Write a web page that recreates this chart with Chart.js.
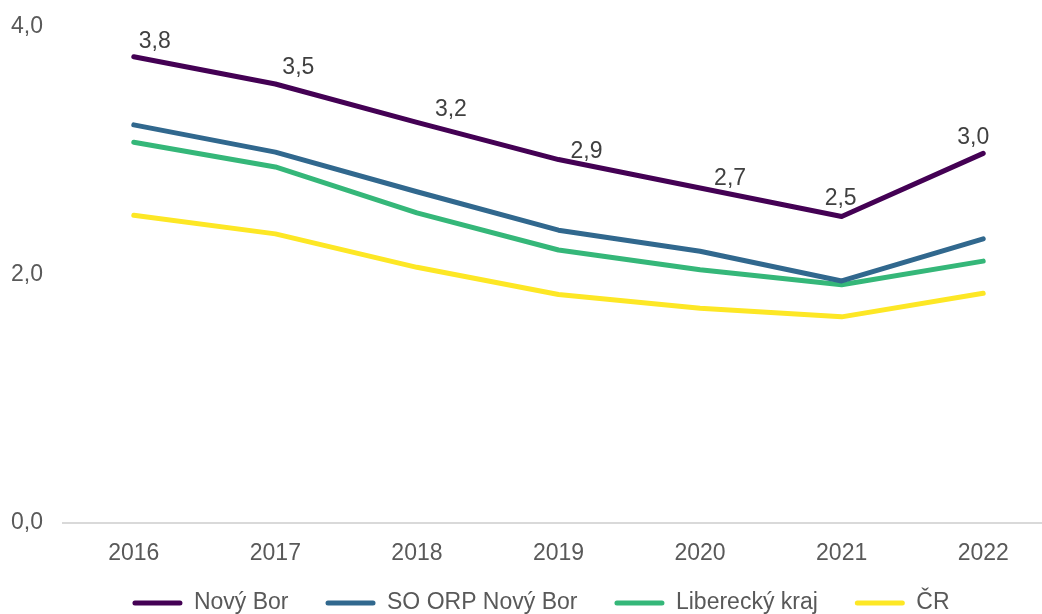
<!DOCTYPE html>
<html>
<head>
<meta charset="utf-8">
<script src="https://cdn.jsdelivr.net/npm/chart.js@4.4.0/dist/chart.umd.min.js"></script>
<style>
  html, body { margin: 0; padding: 0; background: #fff; overflow: hidden; }
  #wrap { width: 1082px; height: 614px; }
</style>
</head>
<body>
<div id="wrap"><canvas id="graf"></canvas></div>
<script>
const roky = ['2016', '2017', '2018', '2019', '2020', '2021', '2022']
const novyBor = [3.76, 3.54, 3.23, 2.93, 2.70, 2.47, 2.98]
const soOrpNovyBor = [3.21, 2.99, 2.67, 2.36, 2.19, 1.95, 2.29]
const libereckyKraj = [3.07, 2.87, 2.50, 2.20, 2.04, 1.92, 2.11]
const cr = [2.48, 2.33, 2.06, 1.84, 1.73, 1.66, 1.85]
const osaYTicks = [0, 2, 4]

// posun popisku u bodu (styl, ne data)
const posunPopisku = [[21, -15], [23, -16], [34, -13], [28, -8], [30, -9], [-1, -18], [-10, -16]]

const popisky = {
    id: 'popisky',
    afterDatasetsDraw(chart) {
        const ctx = chart.ctx
        const meta = chart.getDatasetMeta(0)
        ctx.save()
        ctx.font = '23px "Liberation Sans", Arial, sans-serif'
        ctx.fillStyle = '#404040'
        ctx.textAlign = 'center'
        ctx.textBaseline = 'middle'
        meta.data.forEach((bod, i) => {
            const txt = novyBor[i].toFixed(1).replace('.', ',')
            ctx.fillText(txt, bod.x + posunPopisku[i][0], bod.y + posunPopisku[i][1])
        })
        ctx.restore()
    }
}

// legenda je v originalu trochu vpravo od stredu
const posunLegendy = {
    id: 'posunLegendy',
    afterLayout(chart) {
        chart.legend.left += 9
        chart.legend.right += 9
        chart.legend.top -= 16
        chart.legend.bottom = chart.height
    }
}

function serie(nazev, hodnoty, barva) {
    return {
        label: nazev,
        data: hodnoty,
        borderColor: barva,
        backgroundColor: barva,
        borderWidth: 5,
        pointRadius: 0,
        tension: 0,
        borderCapStyle: 'round',
        borderJoinStyle: 'round'
    }
}

Chart.defaults.font.family = '"Liberation Sans", Arial, sans-serif'

new Chart(document.getElementById('graf'), {
    type: 'line',
    data: {
        labels: roky,
        datasets: [
            serie('Nový Bor', novyBor, '#440154'),
            serie('SO ORP Nový Bor', soOrpNovyBor, '#31688e'),
            serie('Liberecký kraj', libereckyKraj, '#35b779'),
            serie('ČR', cr, '#fde725')
        ]
    },
    options: {
        responsive: true,
        maintainAspectRatio: false,
        animation: false,
        layout: { padding: { left: 10, right: 28, top: 27, bottom: 0 } },
        plugins: {
            tooltip: { enabled: false },
            legend: {
                position: 'bottom',
                maxHeight: 43.5,
                labels: {
                    color: '#595959',
                    font: { size: 23 },
                    boxWidth: 50,
                    boxHeight: 5,
                    padding: 37,
                    useBorderRadius: true,
                    borderRadius: 2.5,
                    generateLabels(chart) {
                        const items = Chart.defaults.plugins.legend.labels.generateLabels(chart)
                        items.forEach(it => { it.lineWidth = 0 })
                        return items
                    }
                }
            }
        },
        scales: {
            x: {
                offset: true,
                grid: { display: false, drawTicks: false },
                border: { display: true, color: '#d9d9d9', width: 2 },
                ticks: { color: '#595959', font: { size: 23 }, padding: 17.5 },
                afterFit(scale) { scale.height = 48 }
            },
            y: {
                min: 0,
                max: 4,
                afterBuildTicks(scale) { scale.ticks = osaYTicks.map(v => ({ value: v })) },
                grid: { display: false, drawTicks: false },
                border: { display: false },
                ticks: {
                    color: '#595959',
                    font: { size: 23, lineHeight: 0.5 },
                    padding: 20,
                    callback: v => v.toFixed(1).replace('.', ',')
                },
                afterFit(scale) { scale.width = 53 }
            }
        }
    },
    plugins: [popisky, posunLegendy]
})
</script>
</body>
</html>
